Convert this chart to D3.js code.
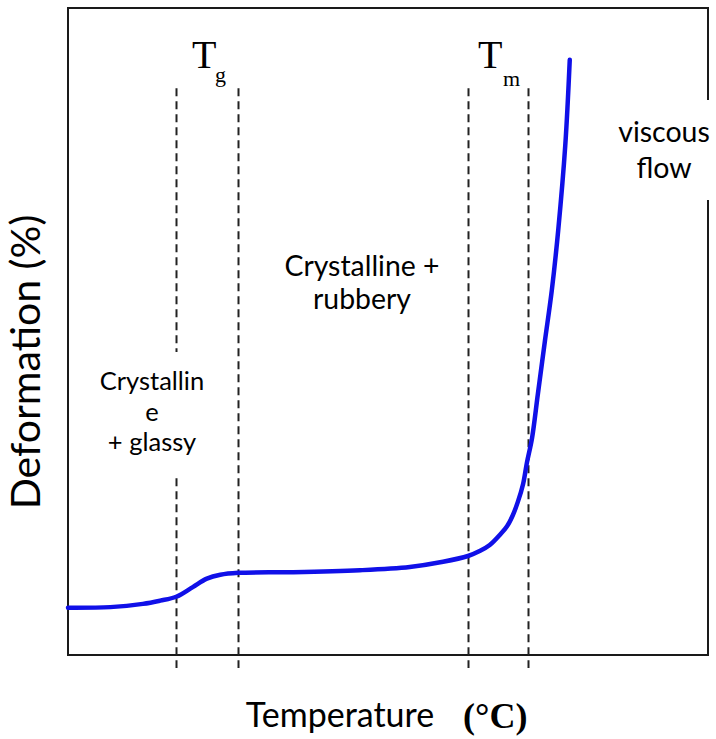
<!DOCTYPE html>
<html>
<head>
<meta charset="utf-8">
<script src="https://cdn.jsdelivr.net/npm/d3@7"></script>
<style>
  html, body { margin: 0; padding: 0; background: #fff; }
  svg { display: block; }
  .sans { font-family: Lato, "Open Sans", sans-serif; fill: #000; }
  .serif { font-family: "Liberation Serif", "DejaVu Serif", serif; fill: #000; }
</style>
</head>
<body>
<svg id="chart" width="716" height="739"></svg>
<script>
// ---- data (temperature in arbitrary units, deformation in %) ----
const temperature = [0, 6.6, 11.7, 14.4, 16.9, 19.5, 21.7, 23.8, 26.6, 35.2, 45.6, 53.4, 58.6, 62.5, 64.4, 65.9, 67.5, 68.6, 69.5, 70.3, 71.1, 71.7, 72.5, 73.4, 74.5, 75.6, 76.6, 77.7, 78.4];
const deformation = [7.3, 7.4, 7.9, 8.4, 9.0, 10.5, 11.8, 12.4, 12.7, 12.8, 13.1, 13.6, 14.4, 15.3, 16.1, 17.0, 18.6, 19.9, 21.6, 23.7, 26.4, 29.7, 33.5, 40.2, 48.4, 56.4, 65.7, 78.8, 92.0];
const transitionTemps = [16.9, 26.6, 62.5, 71.9];
const transitionNames = ["g", "m"];
const regionLabels = [["Crystallin", "e", "+ glassy"], ["Crystalline +", "rubbery"], ["viscous", "flow"]];
const xTitle = "Temperature";
const xUnit = "(°C)";
const yTitle = "Deformation (%)";

const svg = d3.select("#chart");
const pLeft = 68, pRight = 708, pTop = 8, pBottom = 655;
const x = d3.scaleLinear().domain([0, 100]).range([pLeft, pRight]);
const y = d3.scaleLinear().domain([0, 100]).range([pBottom, pTop]);

// frame
svg.append("rect")
  .attr("x", pLeft).attr("y", pTop)
  .attr("width", pRight - pLeft).attr("height", pBottom - pTop)
  .attr("fill", "none").attr("stroke", "#1a1a1a").attr("stroke-width", 2);

// dashed transition lines
svg.selectAll("line.trans").data(transitionTemps).join("line")
  .attr("class", "trans")
  .attr("x1", d => Math.round(x(d)) + 0.5).attr("x2", d => Math.round(x(d)) + 0.5)
  .attr("y1", y(87.6)).attr("y2", y(-2.0))
  .attr("stroke", "#222").attr("stroke-width", 2)
  .attr("stroke-dasharray", "8,5");

// curve
const pts = temperature.map((t, i) => [t, deformation[i]]);
const line = d3.line().x(d => x(d[0])).y(d => y(d[1])).curve(d3.curveCatmullRom.alpha(0.5));
svg.append("path").datum(pts)
  .attr("d", line)
  .attr("fill", "none")
  .attr("stroke", "#1010e8")
  .attr("stroke-width", 4.5)
  .attr("stroke-linecap", "round");

// white label boxes (as in the source image)
svg.append("rect").attr("x", 73).attr("y", 352).attr("width", 150).attr("height", 122).attr("fill", "#fff");
svg.append("rect").attr("x", 600).attr("y", 100).attr("width", 116).attr("height", 100).attr("fill", "#fff");

// T_g / T_m labels
const tLabelPos = [[192, 68, 215, 82], [478, 68, 503, 86]];
transitionNames.forEach((n, i) => {
  const p = tLabelPos[i];
  svg.append("text").attr("class", "serif").attr("x", p[0]).attr("y", p[1])
    .attr("font-size", 40).text("T");
  svg.append("text").attr("class", "serif").attr("x", p[2]).attr("y", p[3])
    .attr("font-size", 22).text(n);
});

// region labels
function block(lines, cx, ys, size) {
  const t = svg.append("text").attr("class", "sans").attr("text-anchor", "middle")
    .attr("font-size", size);
  lines.forEach((s, i) => t.append("tspan").attr("x", cx).attr("y", ys[i]).text(s));
}
block(regionLabels[0], 152, [390, 421, 451], 25.5);
block(regionLabels[1], 362, [276, 309], 28.4);
block(regionLabels[2], 664, [142, 178], 28.5);

// axis titles
svg.append("text").attr("class", "sans").attr("x", 340).attr("y", 727)
  .attr("text-anchor", "middle").attr("font-size", 34).text(xTitle);
svg.append("text").attr("class", "serif").attr("x", 463).attr("y", 728)
  .attr("font-size", 36).attr("font-weight", "bold").text(xUnit);
svg.append("text").attr("class", "sans")
  .attr("transform", "translate(40,362) rotate(-90)")
  .attr("text-anchor", "middle").attr("font-size", 41).text(yTitle);
</script>
</body>
</html>
